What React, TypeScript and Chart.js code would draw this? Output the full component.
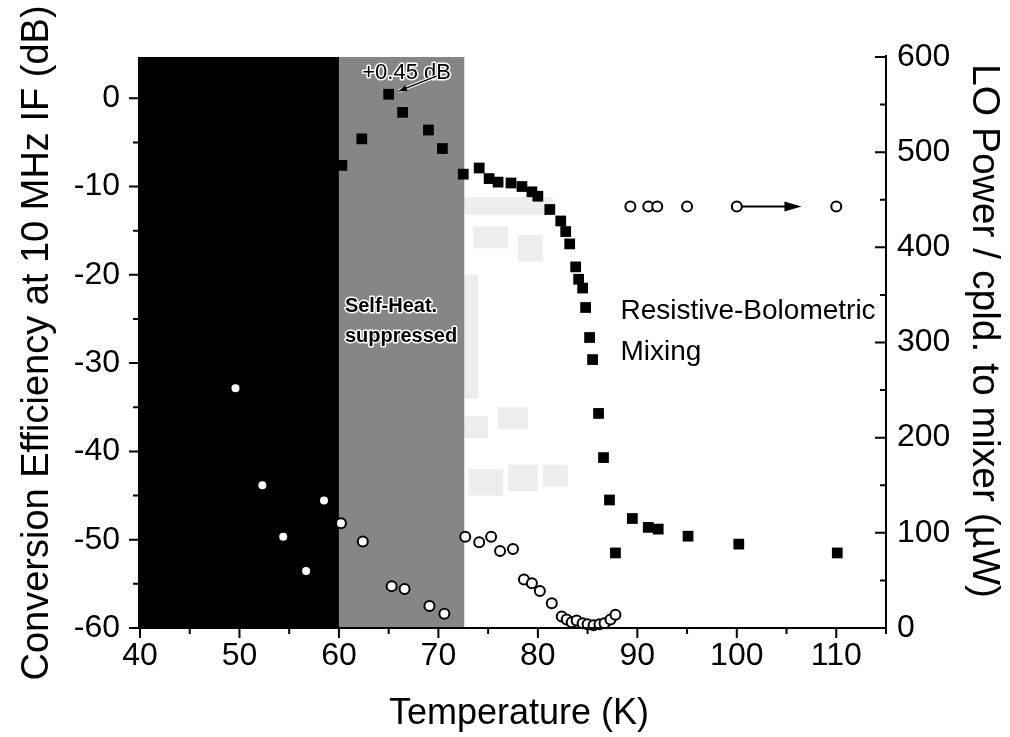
import React, { useEffect, useRef } from "react";
import { Chart, registerables } from "chart.js";

Chart.register(...registerables);

// Conversion efficiency (left axis, dB) – filled squares
const effTemps = [60.3, 62.3, 65.0, 66.4, 69.0, 70.4, 72.5, 74.1, 75.1, 76.0, 77.3, 78.4, 79.4, 80.0, 81.2, 82.3, 82.8, 83.2, 83.8, 84.1, 84.5, 84.8, 85.2, 85.5, 86.1, 86.6, 87.2, 87.8, 89.5, 91.1, 92.1, 95.1, 100.2, 110.1];
const effValues = [-7.6, -4.6, 0.45, -1.6, -3.6, -5.7, -8.6, -7.9, -9.1, -9.5, -9.6, -10.0, -10.6, -11.1, -12.6, -13.9, -15.1, -16.5, -19.1, -20.5, -21.5, -23.7, -27.1, -29.6, -35.7, -40.7, -45.5, -51.5, -47.6, -48.6, -48.8, -49.6, -50.5, -51.5];

// LO power coupled to mixer (right axis, µW) – open circles
const loTemps = [49.6, 52.3, 54.4, 56.7, 58.5, 60.2, 62.4, 65.3, 66.6, 69.1, 70.6, 72.7, 74.1, 75.3, 76.2, 77.5, 78.6, 79.4, 80.2, 81.4, 82.4, 82.9, 83.4, 83.9, 84.5, 85.0, 85.6, 86.2, 86.7, 87.3, 87.8, 89.3, 91.1, 92.0, 95.0, 100.0, 110.0];
const loValues = [252, 150, 96, 60, 134, 110, 91, 44, 41, 23, 15, 96, 90, 96, 81, 83, 51, 47, 39, 26, 12, 9, 6, 8, 5, 4, 3, 4, 5, 9, 14, 443, 443, 443, 443, 443, 443];

const xRange = [40, 115];
const leftRange = [-60, 4.67];
const rightRange = [0, 600];
const blackRegion = [40, 60];
const grayRegion = [60, 72.6];

const FONT = "'Liberation Sans', Arial, Helvetica, sans-serif";

const decorPlugin = {
  id: "decor",
  beforeDatasetsDraw(chart: any) {
    const { ctx, chartArea, scales } = chart;
    const x = scales.x;
    const y = scales.y;
    ctx.save();
    // faint patches in the light speckled zone
    const patches = [
      [72.6, 81.5, -11.2, -13.2],
      [73.5, 77, -14.5, -17],
      [78, 80.5, -15.5, -18.5],
      [73, 76.5, -42, -45],
      [77, 80, -41.5, -44.5],
      [80.5, 83, -41.5, -44],
      [72.6, 75, -36, -38.5],
      [76, 79, -35, -37.5],
      [72.6, 74, -20, -34],
    ];
    ctx.fillStyle = "rgba(0,0,0,0.07)";
    for (const p of patches) {
      const x0 = x.getPixelForValue(p[0]);
      const x1 = x.getPixelForValue(p[1]);
      const y0 = y.getPixelForValue(p[2]);
      const y1 = y.getPixelForValue(p[3]);
      ctx.fillRect(x0, y0, x1 - x0, y1 - y0);
    }
    // gray region
    const g0 = x.getPixelForValue(grayRegion[0]);
    const g1 = x.getPixelForValue(grayRegion[1]);
    ctx.fillStyle = "#868686";
    ctx.fillRect(g0, chartArea.top, g1 - g0, chartArea.bottom - chartArea.top);
    // black region
    const b0 = x.getPixelForValue(blackRegion[0]) - 2;
    const b1 = x.getPixelForValue(blackRegion[1]);
    ctx.fillStyle = "#000";
    ctx.fillRect(b0, chartArea.top, b1 - b0, chartArea.bottom - chartArea.top);
    ctx.restore();
  },
  afterDatasetsDraw(chart: any) {
    const { ctx, chartArea, scales } = chart;
    const x = scales.x;
    const y = scales.y;
    const y1 = scales.y1;
    ctx.save();
    ctx.strokeStyle = "#000";
    ctx.fillStyle = "#000";
    ctx.lineWidth = 2;
    // axis lines
    ctx.beginPath();
    ctx.moveTo(chartArea.left - 1, chartArea.bottom);
    ctx.lineTo(chartArea.right, chartArea.bottom);
    ctx.moveTo(chartArea.right, chartArea.bottom);
    ctx.lineTo(chartArea.right, chartArea.top - 2);
    ctx.moveTo(chartArea.left - 1, chartArea.bottom);
    ctx.lineTo(chartArea.left - 1, chartArea.top);
    ctx.stroke();
    // bottom ticks
    ctx.beginPath();
    for (let v = 40; v <= 115; v += 5) {
      const px = x.getPixelForValue(v);
      const len = v % 10 === 0 ? 10 : 6;
      ctx.moveTo(px, chartArea.bottom);
      ctx.lineTo(px, chartArea.bottom + len);
    }
    // left ticks
    for (let v = -60; v <= 0; v += 5) {
      const py = y.getPixelForValue(v);
      const len = v % 10 === 0 ? 10 : 6;
      ctx.moveTo(chartArea.left - 1, py);
      ctx.lineTo(chartArea.left - 1 - len, py);
    }
    // right ticks (inward)
    for (let v = 0; v <= 600; v += 50) {
      const py = y1.getPixelForValue(v);
      const len = v % 100 === 0 ? 11 : 6;
      ctx.moveTo(chartArea.right, py);
      ctx.lineTo(chartArea.right - len, py);
    }
    ctx.stroke();

    // arrow pointing right from the 100 K circle
    const ay = y1.getPixelForValue(443);
    const ax0 = x.getPixelForValue(100) + 5;
    const ax1 = x.getPixelForValue(106.5);
    ctx.lineWidth = 2;
    ctx.beginPath();
    ctx.moveTo(ax0, ay);
    ctx.lineTo(ax1 - 12, ay);
    ctx.stroke();
    ctx.beginPath();
    ctx.moveTo(ax1, ay);
    ctx.lineTo(ax1 - 17, ay - 5);
    ctx.lineTo(ax1 - 17, ay + 5);
    ctx.closePath();
    ctx.fill();

    // +0.45 dB annotation
    const halo = (text: string, tx: number, ty: number) => {
      ctx.lineJoin = "round";
      ctx.strokeStyle = "#fff";
      ctx.lineWidth = 3;
      ctx.strokeText(text, tx, ty);
      ctx.fillStyle = "#000";
      ctx.fillText(text, tx, ty);
    };
    ctx.font = `22px ${FONT}`;
    ctx.textAlign = "center";
    ctx.textBaseline = "middle";
    halo("+0.45 dB", x.getPixelForValue(66.8), y.getPixelForValue(2.9));
    // small arrow to the point
    const p0x = x.getPixelForValue(69.8), p0y = y.getPixelForValue(2.5);
    const p1x = x.getPixelForValue(66.0), p1y = y.getPixelForValue(0.8);
    ctx.strokeStyle = "#fff";
    ctx.lineWidth = 3.5;
    ctx.beginPath();
    ctx.moveTo(p0x, p0y);
    ctx.lineTo(p1x, p1y);
    ctx.stroke();
    ctx.strokeStyle = "#000";
    ctx.lineWidth = 1.5;
    ctx.beginPath();
    ctx.moveTo(p0x, p0y);
    ctx.lineTo(p1x, p1y);
    ctx.stroke();
    const ang = Math.atan2(p1y - p0y, p1x - p0x);
    ctx.beginPath();
    ctx.moveTo(p1x, p1y);
    ctx.lineTo(p1x - 9 * Math.cos(ang - 0.35), p1y - 9 * Math.sin(ang - 0.35));
    ctx.lineTo(p1x - 9 * Math.cos(ang + 0.35), p1y - 9 * Math.sin(ang + 0.35));
    ctx.closePath();
    ctx.fill();

    // Self-Heat suppressed
    ctx.font = `bold 20px ${FONT}`;
    ctx.textAlign = "left";
    const sx = x.getPixelForValue(60.6);
    halo("Self-Heat.", sx, y.getPixelForValue(-23.6));
    halo("suppressed", sx, y.getPixelForValue(-27.0));

    // Resistive-Bolometric Mixing
    ctx.font = `28px ${FONT}`;
    ctx.fillStyle = "#000";
    const rx = x.getPixelForValue(88.3);
    ctx.fillText("Resistive-Bolometric", rx, y.getPixelForValue(-24.1));
    ctx.fillText("Mixing", rx, y.getPixelForValue(-28.8));

    // axis titles
    ctx.textAlign = "center";
    ctx.textBaseline = "middle";
    ctx.font = `36px ${FONT}`;
    ctx.fillText("Temperature (K)", (chartArea.left + chartArea.right) / 2 + 6, 714);
    ctx.save();
    ctx.font = `38px ${FONT}`;
    ctx.translate(38, 343);
    ctx.rotate(-Math.PI / 2);
    ctx.fillText("Conversion Efficiency at 10 MHz IF (dB)", 0, 0);
    ctx.restore();
    ctx.save();
    ctx.font = `39px ${FONT}`;
    ctx.translate(984, 331);
    ctx.rotate(Math.PI / 2);
    ctx.fillText("LO Power / cpld. to mixer (\u00b5W)", 0, 0);
    ctx.restore();
    ctx.restore();
  },
};

export default function App() {
  const ref = useRef<HTMLCanvasElement | null>(null);
  useEffect(() => {
    if (!ref.current) return;
    const tickFont = { family: FONT, size: 32 };
    const chart = new Chart(ref.current, {
      type: "scatter",
      data: {
        datasets: [
          {
            label: "LO Power",
            data: loTemps.map((t, i) => ({ x: t, y: loValues[i] })),
            yAxisID: "y1",
            pointStyle: "circle",
            pointRadius: 5,
            pointBorderWidth: 2,
            pointBackgroundColor: "#fff",
            pointBorderColor: "#000",
            showLine: false,
            clip: false,
          } as any,
          {
            label: "Conversion Efficiency",
            data: effTemps.map((t, i) => ({ x: t, y: effValues[i] })),
            yAxisID: "y",
            pointStyle: "rect",
            pointRadius: 7.6,
            pointBorderWidth: 0,
            pointBackgroundColor: "#000",
            pointBorderColor: "#000",
            showLine: false,
            clip: false,
          } as any,
        ],
      },
      options: {
        animation: false,
        responsive: false,
        devicePixelRatio: 1,
        layout: { padding: { top: 57, left: 0, right: 0, bottom: 0 } },
        plugins: { legend: { display: false }, tooltip: { enabled: false } },
        scales: {
          x: {
            type: "linear",
            min: xRange[0],
            max: xRange[1],
            border: { display: false },
            grid: { display: false, drawTicks: false },
            ticks: { stepSize: 10, includeBounds: false, padding: 9, color: "#000", font: tickFont, maxRotation: 0 },
            afterFit: (s: any) => { s.height = 109; },
          },
          y: {
            type: "linear",
            position: "left",
            min: leftRange[0],
            max: leftRange[1],
            border: { display: false },
            grid: { display: false, drawTicks: false },
            ticks: { stepSize: 10, includeBounds: false, padding: 20, color: "#000", font: tickFont },
            afterFit: (s: any) => { s.width = 140; },
          },
          y1: {
            type: "linear",
            position: "right",
            min: rightRange[0],
            max: rightRange[1],
            border: { display: false },
            grid: { display: false, drawTicks: false },
            ticks: { stepSize: 100, includeBounds: false, padding: 11, color: "#000", font: tickFont },
            afterFit: (s: any) => { s.width = 124; },
          },
        },
      } as any,
      plugins: [decorPlugin],
    });
    return () => chart.destroy();
  }, []);
  return (
    <div style={{ position: "fixed", left: 0, top: 0, width: 1010, height: 737, background: "#fff" }}>
      <canvas ref={ref} width={1010} height={737} style={{ display: "block", width: 1010, height: 737 }} />
    </div>
  );
}
